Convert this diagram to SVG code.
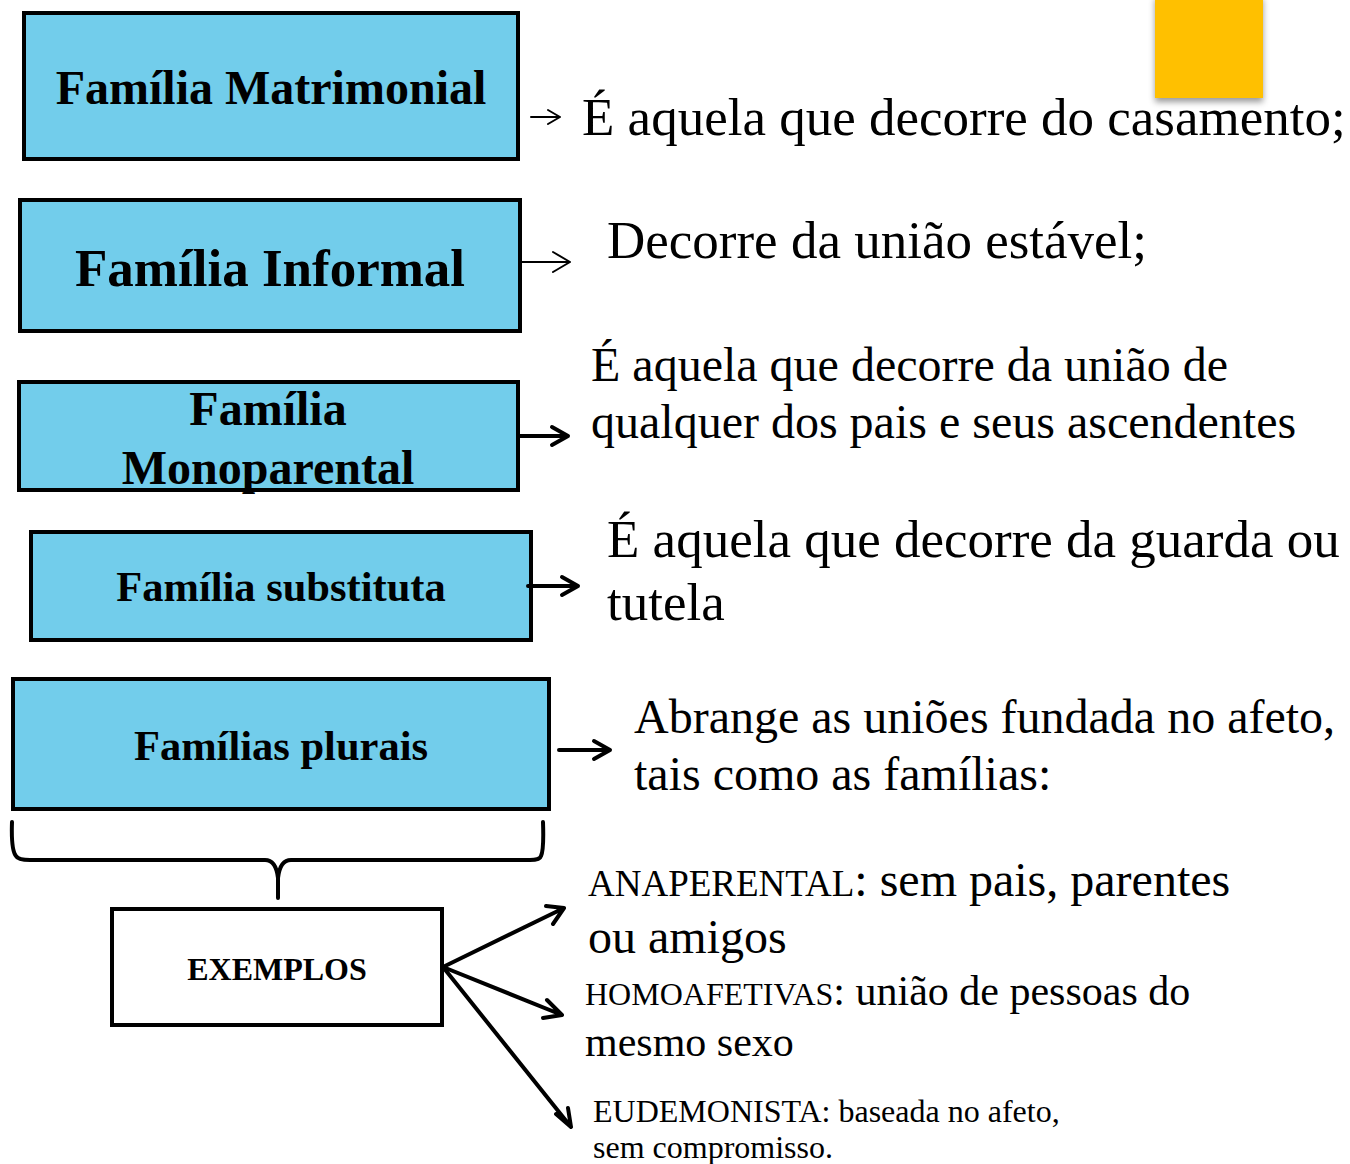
<svg xmlns="http://www.w3.org/2000/svg" width="1350" height="1164" viewBox="0 0 1350 1164">
<defs>
<style>
.box{fill:#72CDEB;stroke:#000;stroke-width:4}
.wbox{fill:#fff;stroke:#000;stroke-width:4}
.bt{font-family:"Liberation Serif",serif;font-weight:bold;fill:#000;text-anchor:middle}
.t{font-family:"Liberation Serif",serif;fill:#000}
.c{fill:none;stroke:#000;stroke-linecap:round;stroke-linejoin:round}
</style>
<filter id="sh" x="-20%" y="-20%" width="140%" height="140%"><feDropShadow dx="0" dy="4" stdDeviation="3" flood-color="#000" flood-opacity="0.4"/></filter>
</defs>
<rect width="1350" height="1164" fill="#fff"/>
<rect x="1155" y="-5" width="108" height="103" fill="#FFC000" filter="url(#sh)"/>

<g id="n1"><rect class="box" x="24" y="13" width="494" height="146"/><text class="bt" x="271" y="104" font-size="48">Família Matrimonial</text></g>
<g id="n2"><rect class="box" x="20" y="200" width="500" height="131"/><text class="bt" x="270" y="286" font-size="53">Família Informal</text></g>
<g id="n3"><rect class="box" x="19" y="382" width="499" height="108"/><text class="bt" x="268" y="425" font-size="48">Família</text><text class="bt" x="268" y="484" font-size="48">Monoparental</text></g>
<g id="n4"><rect class="box" x="31" y="532" width="500" height="108"/><text class="bt" x="281" y="601" font-size="42.5">Família substituta</text></g>
<g id="n5"><rect class="box" x="13" y="679" width="536" height="130"/><text class="bt" x="281" y="760" font-size="42.5">Famílias plurais</text></g>
<g id="n6"><rect class="wbox" x="112" y="909" width="330" height="116"/><text class="bt" x="277" y="980" font-size="32">EXEMPLOS</text></g>

<g id="d1"><text class="t" x="582" y="135" font-size="53">É aquela que decorre do casamento;</text></g>
<g id="d2"><text class="t" x="607" y="258" font-size="53">Decorre da união estável;</text></g>
<g id="d3"><text class="t" x="591" y="381" font-size="48">É aquela que decorre da união de</text><text class="t" x="591" y="438" font-size="48">qualquer dos pais e seus ascendentes</text></g>
<g id="d4"><text class="t" x="607" y="557" font-size="53">É aquela que decorre da guarda ou</text><text class="t" x="607" y="620" font-size="53">tutela</text></g>
<g id="d5"><text class="t" x="634" y="733" font-size="48">Abrange as uniões fundada no afeto,</text><text class="t" x="634" y="790" font-size="48">tais como as famílias:</text></g>
<g id="e1"><text class="t" x="588" y="896" font-size="48"><tspan font-size="37">ANAPERENTAL</tspan>: sem pais, parentes</text><text class="t" x="588" y="953" font-size="48">ou amigos</text></g>
<g id="e2"><text class="t" x="585" y="1005" font-size="42"><tspan font-size="32">HOMOAFETIVAS</tspan>: união de pessoas do</text><text class="t" x="585" y="1056" font-size="42">mesmo sexo</text></g>
<g id="e3"><text class="t" x="593" y="1122" font-size="32">EUDEMONISTA: baseada no afeto,</text><text class="t" x="593" y="1158" font-size="32">sem compromisso.</text></g>

<g id="connectors">
<path class="c" stroke-width="2" d="M531 117H560M548 110L560 117L548 124"/>
<path class="c" stroke-width="2" d="M520 262H570M553 252L570 262L553 272"/>
<path class="c" stroke-width="4" d="M520 436H568M552 427L568 436L552 445"/>
<path class="c" stroke-width="4" d="M528 586H578M562 577L578 586L562 595"/>
<path class="c" stroke-width="4" d="M559 750H610M594 741L610 750L594 759"/>
<path class="c" stroke-width="4" d="M12 822Q11 850 16 856Q18 860 30 860H265Q276 860 278 878V898M278 878Q280 860 291 860H530Q540 860 541 856Q544 850 543 822"/>
<path class="c" stroke-width="4" d="M443 967L564 908M546 906L564 908L553 924"/>
<path class="c" stroke-width="4" d="M443 967L562 1015M547 1000L562 1015L543 1018"/>
<path class="c" stroke-width="4" d="M443 967L571 1127M556 1114L571 1127L568 1108"/>
</g>
</svg>
